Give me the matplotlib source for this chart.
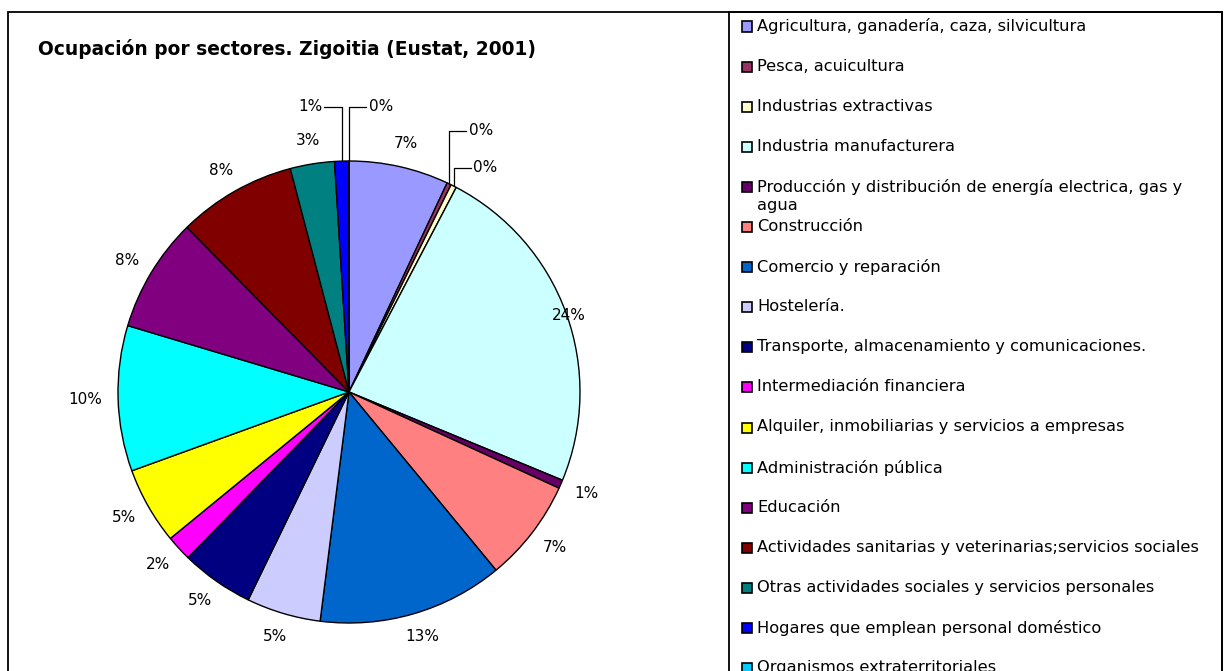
import numpy as np
import matplotlib
matplotlib.use("Agg")
import matplotlib.pyplot as plt
from matplotlib.patches import Rectangle

plt.rcParams['font.family'] = ['DejaVu Sans']

# --- datos (porcentaje de ocupados por sector) ---
sectores = [
    "Agricultura, ganadería, caza, silvicultura",
    "Pesca, acuicultura",
    "Industrias extractivas",
    "Industria manufacturera",
    "Producción y distribución de energía electrica, gas y\nagua",
    "Construcción",
    "Comercio y reparación",
    "Hostelería.",
    "Transporte, almacenamiento y comunicaciones.",
    "Intermediación financiera",
    "Alquiler, inmobiliarias y servicios a empresas",
    "Administración pública",
    "Educación",
    "Actividades sanitarias y veterinarias;servicios sociales",
    "Otras actividades sociales y servicios personales",
    "Hogares que emplean personal doméstico",
    "Organismos extraterritoriales",
]
porcentajes = [7.0, 0.3, 0.4, 23.6, 0.6, 7.2, 13.0, 5.2, 5.1, 1.8, 5.4,
               10.2, 8.0, 8.3, 3.1, 1.0, 0.0]
colores = ["#9999FF", "#993366", "#FFFFCC", "#CCFFFF", "#660066", "#FF8080",
           "#0066CC", "#CCCCFF", "#000080", "#FF00FF", "#FFFF00", "#00FFFF",
           "#800080", "#800000", "#008080", "#0000FF", "#00CCFF"]
titulo = "Ocupación por sectores. Zigoitia (Eustat, 2001)"

W, H = 1225, 671
fig = plt.figure(figsize=(W / 100, H / 100), dpi=100)

def fx(px):
    return px / W

def fy(py):
    return 1 - py / H

# marco exterior y caja de leyenda
fig.patches.append(Rectangle((fx(8), fy(690)), fx(1222) - fx(8), fy(12) - fy(690),
                             transform=fig.transFigure, fill=False, lw=1.3,
                             edgecolor='black', zorder=0))
fig.patches.append(Rectangle((fx(729), fy(690)), fx(1222) - fx(729), fy(12) - fy(690),
                             transform=fig.transFigure, fill=False, lw=1.3,
                             edgecolor='black', zorder=0))

fig.text(fx(38), fy(49), titulo, fontsize=13.4, fontweight='bold', va='center', ha='left')

# --- tarta ---
R = 231  # radio en pixeles
cx, cy = 349, 392
half = 300
ax = fig.add_axes([fx(cx - half), fy(cy + half), 2 * half / W, 2 * half / H])
ax.axis('off')

vals = np.array(porcentajes)
ax.pie(vals, colors=colores, startangle=90, counterclock=False, radius=1,
       wedgeprops=dict(edgecolor='black', linewidth=1.0))
# pie() fija sus propios limites: se reajustan despues
ax.set_xlim(-half / R, half / R)
ax.set_ylim(-half / R, half / R)
ax.set_aspect('equal')

total = vals.sum()
cum = np.cumsum(vals) / total
start = np.concatenate([[0], cum[:-1]])
mid = (start + cum) / 2
pct_txt = [f"{round(v / total * 100):.0f}%" for v in vals]

# etiquetas con línea guía para sectores muy pequeños: (altura etiqueta, lado)
guias = {1: (1.13, 1), 2: (0.97, 1), 15: (1.234, -1), 16: (1.234, 1)}
dist_label = {3: 0.94}

renderer = fig.canvas.get_renderer()
for i, m in enumerate(mid):
    ang = 2 * np.pi * m
    sx, sy = np.sin(ang), np.cos(ang)
    if i in guias:
        ylab, lado = guias[i]
        ex, ey = sx, sy
        ax.plot([ex, ex, ex + lado * 0.075], [ey, ylab, ylab], color='black',
                lw=0.9, clip_on=False)
        ax.text(ex + lado * 0.085, ylab, pct_txt[i], fontsize=11,
                ha='left' if lado > 0 else 'right', va='center', clip_on=False)
    else:
        d = dist_label.get(i, 1.07)
        t = ax.text(sx * d, sy * d, pct_txt[i], fontsize=11, ha='center',
                    va='center', clip_on=False)
        # la caja del texto queda apoyada por fuera del punto de anclaje
        bb = t.get_window_extent(renderer)
        t.set_position((sx * d + sx * bb.width / 2 / R,
                        sy * d + sy * bb.height / 2 / R))

# --- leyenda ---
for i, (lab, col) in enumerate(zip(sectores, colores)):
    yc = 26.5 + i * 40.1
    fig.patches.append(Rectangle((fx(742), fy(yc + 5)), 10 / W, 10 / H,
                                 transform=fig.transFigure, facecolor=col,
                                 edgecolor='black', lw=1.2))
    fig.text(fx(757), fy(yc - 8), lab, fontsize=11.7, ha='left', va='top',
             linespacing=1.25)

fig.savefig("out.png", dpi=100)
